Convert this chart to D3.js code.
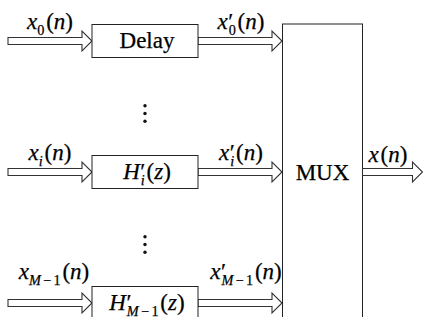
<!DOCTYPE html>
<html>
<head>
<meta charset="utf-8">
<script src="https://cdn.jsdelivr.net/npm/d3@7"></script>
<style>
  html, body { margin: 0; padding: 0; background: #fff; }
</style>
</head>
<body>
<svg id="chart" width="423" height="317"></svg>
<script>
// 每一路：输入信号、处理块、输出信号
const rows = [0, 1, 2];
const inputLabels = [
    [["x", "i"], ["0", "sub"], ["(", ""], ["n", "i"], [")", ""]],
    [["x", "i"], ["i", "subi"], ["(", ""], ["n", "i"], [")", ""]],
    [["x", "i"], ["M", "subi"], ["\u2212", "sub"], ["1", "sub"], ["(", ""], ["n", "i"], [")", ""]]
];
const blockLabels = [
    [["Delay", ""]],
    [["H", "i"], ["\u2032", "prime"], ["i", "subi2"], ["(", ""], ["z", "i"], [")", ""]],
    [["H", "i"], ["\u2032", "prime"], ["M", "subi2"], ["\u2212", "sub"], ["1", "sub"], ["(", ""], ["z", "i"], [")", ""]]
];
const outputLabels = [
    [["x", "i"], ["\u2032", "prime"], ["0", "sub2"], ["(", ""], ["n", "i"], [")", ""]],
    [["x", "i"], ["\u2032", "prime"], ["i", "subi2"], ["(", ""], ["n", "i"], [")", ""]],
    [["x", "i"], ["\u2032", "prime"], ["M", "subi2"], ["\u2212", "sub"], ["1", "sub"], ["(", ""], ["n", "i"], [")", ""]]
];
const muxLabel = [["MUX", ""]];
const muxOutLabel = [["x", "i"], ["(", ""], ["n", "i"], [")", ""]];
const labelBaselines = [29, 160, 279];

const FONT = "'Liberation Serif', 'Times New Roman', serif";
const svg = d3.select("#chart");
const y = d3.scalePoint().domain(rows).range([41, 303]);

const inX = [8, 92], boxX = [92, 198], outX = [198, 282];
const mux = {x0: 282.5, x1: 362.5, y0: 24};
const boxH = 33;

// 空心箭头
function arrow(x0, x1, cy) {
    const s = 3.5, h = 10, hl = 10;
    const p = d3.path();
    p.moveTo(x0, cy - s);
    p.lineTo(x1 - hl, cy - s);
    p.lineTo(x1 - hl, cy - h);
    p.lineTo(x1, cy);
    p.lineTo(x1 - hl, cy + h);
    p.lineTo(x1 - hl, cy + s);
    p.lineTo(x0, cy + s);
    p.closePath();
    svg.append("path")
        .attr("d", p.toString())
        .attr("fill", "#fff")
        .attr("stroke", "#333")
        .attr("stroke-width", 1.1);
}

// 带上下标的公式文字
function label(cx, base, parts, size) {
    const t = svg.append("text")
        .attr("x", cx).attr("y", base)
        .attr("text-anchor", "middle")
        .attr("fill", "#000")
        .attr("stroke", "#000")
        .attr("stroke-width", 0.25)
        .style("font-family", FONT)
        .style("font-size", size + "px");
    let shift = 0;
    parts.forEach(([s, k]) => {
        let target = 0, fs = size, italic = false, dx = 0;
        if (k === "i") italic = true;
        if (k === "sub") { target = size * 0.28; fs = size * 0.62; }
        if (k === "subi") { target = size * 0.28; fs = size * 0.62; italic = true; }
        if (k === "sub2") { target = size * 0.28; fs = size * 0.62; dx = -size * 0.2; }
        if (k === "subi2") { target = size * 0.28; fs = size * 0.62; italic = true; dx = -size * 0.2; }
        if (k === "prime") { target = -size * 0.02; dx = size * 0.02; }
        if (s === "\u2212" || s === "1") dx = size * 0.1;
        if (s === "(") dx = size * 0.08;
        const ts = t.append("tspan")
            .text(s)
            .attr("dy", target - shift)
            .style("font-size", fs + "px")
            .style("font-style", italic ? "italic" : "normal");
        if (dx) ts.attr("dx", dx);
        shift = target;
    });
}

rows.forEach(r => {
    const cy = y(r);
    arrow(inX[0], inX[1], cy);
    arrow(outX[0], outX[1], cy);
    svg.append("rect")
        .attr("x", boxX[0]).attr("y", cy - boxH / 2)
        .attr("width", boxX[1] - boxX[0]).attr("height", boxH)
        .attr("fill", "#fff").attr("stroke", "#222").attr("stroke-width", 1);
    label((inX[0] + inX[1]) / 2 + 4 * (r === 2 ? 1 : 0), labelBaselines[r], inputLabels[r], 23);
    label((outX[0] + outX[1]) / 2 + 1 + 5 * (r === 2 ? 1 : 0), labelBaselines[r], outputLabels[r], 23);
    label((boxX[0] + boxX[1]) / 2 + 2, cy + 7, blockLabels[r], 23);
});

// 省略号
const dotRows = [0, 1];
dotRows.forEach(r => {
    const mid = (y(r) + y(r + 1)) / 2 + 7;
    svg.selectAll(null).data([-1, 0, 1]).enter().append("circle")
        .attr("cx", 145).attr("cy", d => mid + d * 7.7)
        .attr("r", 1.7).attr("fill", "#111");
});

// MUX
svg.append("rect")
    .attr("x", mux.x0).attr("y", mux.y0)
    .attr("width", mux.x1 - mux.x0).attr("height", 320)
    .attr("fill", "#fff").attr("stroke", "#222").attr("stroke-width", 1);
label((mux.x0 + mux.x1) / 2, y(1) + 8, muxLabel, 23);
arrow(mux.x1, 422.5, y(1));
label(388, 162, muxOutLabel, 23);
</script>
</body>
</html>
